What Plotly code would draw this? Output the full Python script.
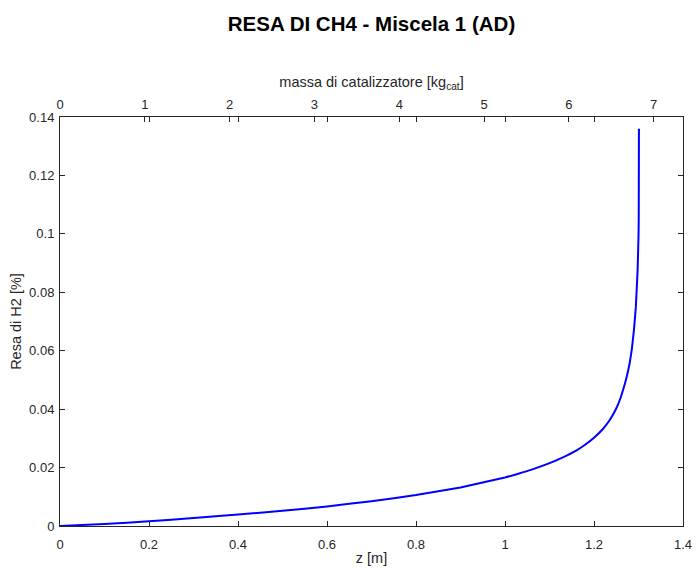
import plotly.graph_objects as go

# Reactor length z [m] and CH4 yield along the bed
z_m = [0.0, 0.1, 0.2, 0.3, 0.4, 0.5, 0.6, 0.7, 0.8, 0.9, 1.0, 1.03, 1.06,
       1.1, 1.13, 1.16, 1.18, 1.2, 1.22, 1.235, 1.25, 1.26, 1.27, 1.275,
       1.28, 1.285, 1.29, 1.294, 1.298, 1.3, 1.3005, 1.301]
resa = [0.0, 0.0007, 0.0016, 0.0027, 0.0039, 0.0052, 0.0067, 0.0085,
        0.0106, 0.0132, 0.0166, 0.0179, 0.0193, 0.0215, 0.0235, 0.0258,
        0.0278, 0.0302, 0.0332, 0.0362, 0.0402, 0.0440, 0.0490, 0.0520,
        0.0556, 0.0605, 0.0675, 0.0750, 0.0876, 0.0990, 0.1047, 0.1360]

# Scale ticks
z_ticks = [0, 0.2, 0.4, 0.6, 0.8, 1.0, 1.2, 1.4]
y_ticks = [0, 0.02, 0.04, 0.06, 0.08, 0.1, 0.12, 0.14]
mass_ticks = [0, 1, 2, 3, 4, 5, 6, 7]

# Catalyst mass per metre of bed [kg_cat/m]
kg_per_m = 5.247
z_max = 1.4
y_max = 0.14

axis_col = "#262626"
font_fam = "Liberation Sans, Arial, sans-serif"

fig = go.Figure()
fig.add_trace(go.Scatter(
    x=z_m, y=resa, mode="lines",
    line=dict(color="#0000FF", width=2, shape="spline", smoothing=0.3),
    showlegend=False, hoverinfo="skip",
))
# invisible trace so the mass axis is active
fig.add_trace(go.Scatter(
    x=[0, z_max * kg_per_m], y=[0, 0], xaxis="x2", mode="lines",
    line=dict(width=0), opacity=0, showlegend=False, hoverinfo="skip",
))

tick_common = dict(
    ticks="inside", ticklen=5, tickwidth=1, tickcolor=axis_col,
    showline=True, linecolor=axis_col, linewidth=1, showgrid=False,
    zeroline=False, automargin=False,
    tickfont=dict(family=font_fam, size=13, color=axis_col),
)
label_font = dict(family=font_fam, size=14.5, color=axis_col)

fig.update_layout(
    width=696, height=568,
    margin=dict(l=60, r=13, t=117, b=42),
    plot_bgcolor="white", paper_bgcolor="white",
    title=dict(
        text="<b>RESA DI CH4 - Miscela 1 (AD)</b>",
        x=(60 + 683) / 2 / 696, xanchor="center",
        y=1 - 23.5 / 568, yanchor="middle",
        font=dict(family=font_fam, size=20.5, color="black"),
    ),
    xaxis=dict(
        range=[0, z_max], tickvals=z_ticks,
        ticktext=["0", "0.2", "0.4", "0.6", "0.8", "1", "1.2", "1.4"],
        mirror="ticks", ticklabelstandoff=6,
        title=dict(text="z [m]", font=label_font, standoff=2),
        **tick_common,
    ),
    xaxis2=dict(
        range=[0, z_max * kg_per_m], tickvals=mass_ticks,
        overlaying="x", side="top", anchor="y", ticklabelstandoff=2,
        title=dict(text="massa di catalizzatore [kg<sub>cat</sub>]",
                   font=label_font, standoff=5),
        **tick_common,
    ),
    yaxis=dict(
        range=[0, y_max], tickvals=y_ticks,
        ticktext=["0", "0.02", "0.04", "0.06", "0.08", "0.1", "0.12", "0.14"],
        mirror="ticks", ticklabelstandoff=2,
        title=dict(text="Resa di H2 [%]", font=label_font, standoff=4),
        **tick_common,
    ),
)

fig.write_html("out.html")
